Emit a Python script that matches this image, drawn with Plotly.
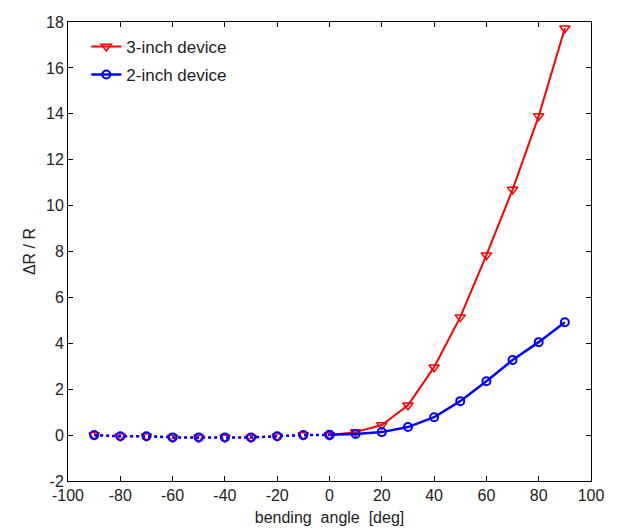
import plotly.graph_objects as go

angles_neg = [-90, -80, -70, -60, -50, -40, -30, -20, -10, 0]
angles_pos = [0, 10, 20, 30, 40, 50, 60, 70, 80, 90]

red_neg = [0.0, -0.05, -0.05, -0.1, -0.1, -0.1, -0.1, -0.05, 0.0, 0.0]
red_pos = [0.0, 0.13, 0.44, 1.3, 2.96, 5.14, 7.84, 10.7, 13.9, 17.73]
blue_neg = [0.0, -0.05, -0.05, -0.1, -0.1, -0.1, -0.1, -0.05, 0.0, 0.0]
blue_pos = [0.02, 0.05, 0.13, 0.35, 0.78, 1.48, 2.35, 3.27, 4.05, 4.92]

x_ticks = [-100, -80, -60, -40, -20, 0, 20, 40, 60, 80, 100]
y_ticks = [-2, 0, 2, 4, 6, 8, 10, 12, 14, 16, 18]

FONT = "Liberation Sans, Arial"

fig = go.Figure()
fig.add_trace(go.Scatter(x=angles_neg, y=red_neg, mode="lines+markers",
                         line=dict(color="red", width=2, dash="dot"),
                         marker=dict(symbol="triangle-down-open", size=9, color="red", line=dict(width=1.5)),
                         showlegend=False))
fig.add_trace(go.Scatter(x=angles_pos, y=red_pos, mode="lines+markers", name="3-inch device",
                         line=dict(color="red", width=2),
                         marker=dict(symbol="triangle-down-open", size=9, color="red", line=dict(width=1.5)),
                         legend="legend"))
fig.add_trace(go.Scatter(x=angles_neg, y=blue_neg, mode="lines+markers",
                         line=dict(color="blue", width=2.5, dash="dot"),
                         marker=dict(symbol="circle-open", size=8, color="blue", line=dict(width=2)),
                         showlegend=False))
fig.add_trace(go.Scatter(x=angles_pos, y=blue_pos, mode="lines+markers", name="2-inch device",
                         line=dict(color="blue", width=2.5),
                         marker=dict(symbol="circle-open", size=8, color="blue", line=dict(width=2)),
                         legend="legend2"))

axis_common = dict(showgrid=False, zeroline=False, showline=True, linecolor="black", linewidth=1,
                   mirror="ticks", ticks="inside", ticklen=5, tickcolor="black", automargin=False,
                   tickfont=dict(family=FONT, size=16, color="#222"))
fig.update_xaxes(range=[-100, 100], tickvals=x_ticks, ticktext=[str(v) for v in x_ticks],
                 title=dict(text="bending  angle  [deg]", font=dict(family=FONT, size=16, color="#222"), standoff=8),
                 **axis_common)
fig.update_yaxes(range=[-2, 18], tickvals=y_ticks, ticktext=[str(v) for v in y_ticks],
                 title=dict(text="ΔR / R", font=dict(family=FONT, size=16, color="#222"), standoff=6),
                 **axis_common)
leg_common = dict(xanchor="left", yanchor="top", bgcolor="rgba(0,0,0,0)",
                  font=dict(family=FONT, size=17, color="#222"))
fig.update_layout(width=617, height=532, plot_bgcolor="white", paper_bgcolor="white",
                  margin=dict(l=68, r=26, t=22, b=51),
                  legend=dict(x=0.035, y=0.985, **leg_common),
                  legend2=dict(x=0.035, y=0.924, **leg_common))
fig.write_html("out.html")
